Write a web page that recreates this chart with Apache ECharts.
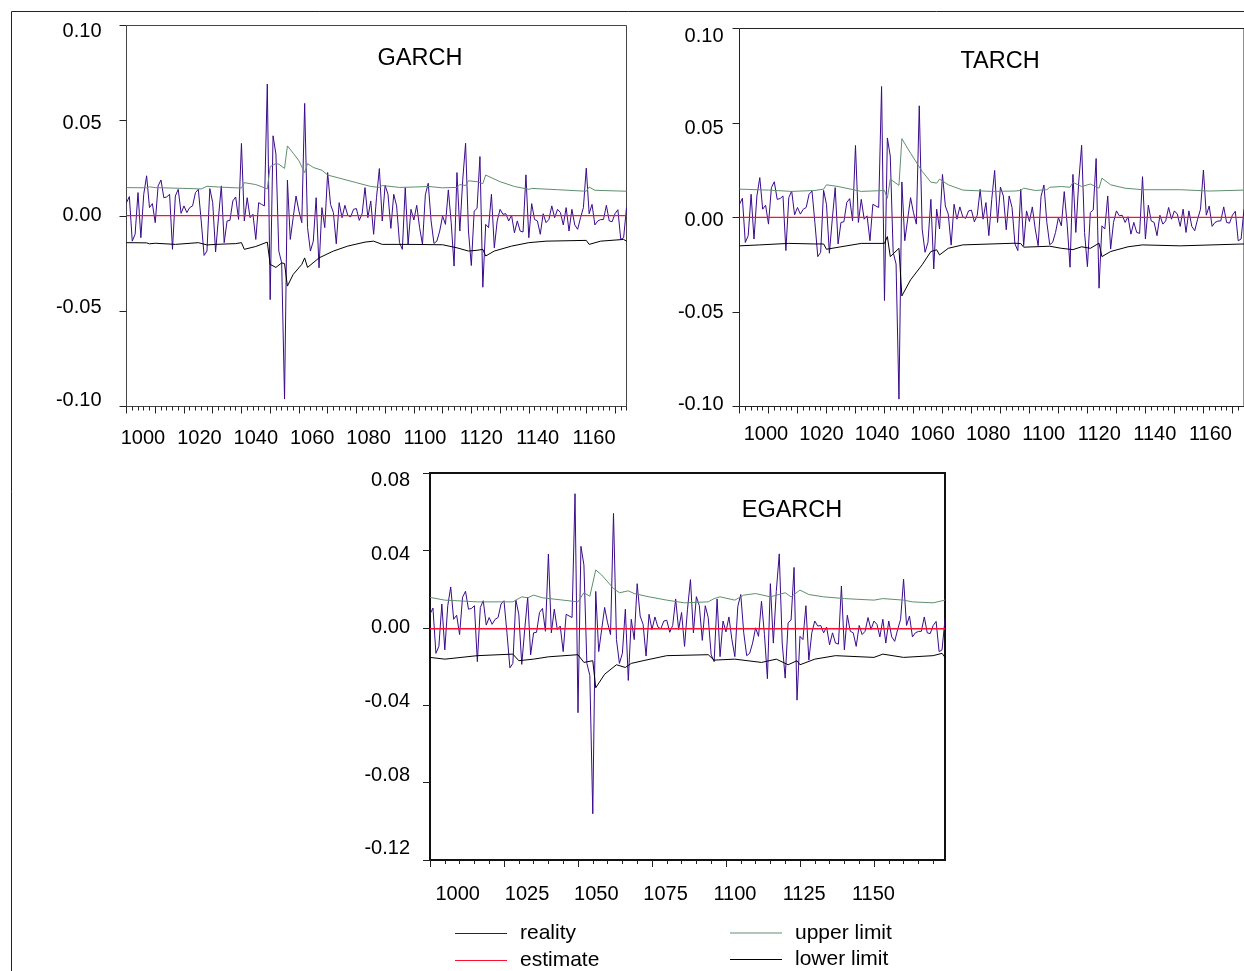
<!DOCTYPE html>
<html><head><meta charset="utf-8">
<script src="https://cdn.jsdelivr.net/npm/echarts@6/dist/echarts.min.js"></script>
<style>html,body{margin:0;padding:0;background:#fff}#c{width:1244px;height:971px}</style>
</head><body><div id="c"></div>
<script>
// ---- data (observation index 0..174) ----
const reality = [0.0070,0.0102,-0.0132,-0.0096,0.0123,-0.0114,0.0114,0.0211,0.0044,0.0065,
-0.0035,0.0158,0.0189,0.0096,0.0100,0.0114,-0.0175,0.0105,0.0140,0.0014,
0.0053,0.0018,0.0044,0.0053,0.0123,0.0140,-0.0026,-0.0207,-0.0184,0.0144,
0.0070,-0.0189,-0.0009,0.0158,-0.0140,-0.0026,-0.0023,0.0079,0.0100,-0.0018,
0.0381,-0.0026,0.0096,-0.0009,0.0009,-0.0123,0.0070,0.0061,0.0053,0.0693,
-0.0439,0.0421,0.0325,-0.0184,-0.0246,-0.0961,0.0188,-0.0123,-0.0009,0.0105,
0.0026,-0.0035,0.0591,-0.0061,-0.0184,-0.0132,0.0096,-0.0272,0.0044,-0.0061,
0.0228,0.0061,0.0018,-0.0146,0.0070,-0.0009,0.0056,0.0004,-0.0005,0.0035,
0.0039,-0.0023,0.0012,0.0149,-0.0009,0.0079,-0.0096,0.0096,0.0249,-0.0026,
0.0161,0.0114,-0.0065,0.0114,0.0053,-0.0140,-0.0175,0.0149,-0.0149,0.0035,
-0.0021,0.0056,-0.0061,-0.0149,0.0111,0.0172,-0.0026,-0.0144,-0.0132,-0.0079,
0.0000,-0.0044,0.0137,-0.0035,-0.0263,0.0228,-0.0079,0.0188,0.0382,-0.0079,
-0.0260,0.0026,0.0040,0.0312,-0.0374,-0.0044,-0.0061,0.0114,-0.0167,-0.0026,
0.0035,0.0009,0.0012,-0.0026,0.0004,-0.0088,-0.0026,-0.0079,-0.0084,0.0216,
-0.0114,0.0065,-0.0018,-0.0026,-0.0096,0.0012,-0.0035,-0.0018,0.0053,-0.0009,
0.0035,0.0018,-0.0047,0.0044,-0.0079,0.0035,-0.0047,-0.0070,-0.0009,0.0044,
0.0251,0.0012,0.0061,-0.0047,-0.0026,-0.0019,-0.0018,0.0056,-0.0026,-0.0030,
0.0012,0.0033,-0.0123,-0.0114,0.0044];

const garchEstimate = [[0,0.0002],[174,0.0002]];
const garchUpper = [[0,0.0149],[7,0.0148],[8,0.0153],[10,0.0149],[20,0.0145],[26,0.0142],[28,0.0156],[32,0.0152],[38,0.0148],[40,0.0147],[41,0.0175],[45,0.0165],[49,0.0142],[50,0.0260],[52,0.0275],[53,0.0272],[55,0.0250],[56,0.0368],[58,0.0330],[60,0.0290],[62,0.0228],[63,0.0275],[65,0.0255],[68,0.0240],[70,0.0215],[75,0.0195],[80,0.0175],[85,0.0155],[88,0.0150],[89,0.0160],[95,0.0150],[100,0.0152],[105,0.0155],[110,0.0148],[115,0.0150],[116,0.0165],[118,0.0160],[119,0.0185],[122,0.0180],[124,0.0170],[125,0.0215],[130,0.0180],[135,0.0155],[140,0.0140],[141,0.0145],[150,0.0138],[160,0.0130],[161,0.0152],[163,0.0135],[174,0.0130]];
const garchLower = [[0,-0.0140],[7,-0.0141],[8,-0.0146],[10,-0.0143],[17,-0.0149],[25,-0.0140],[28,-0.0152],[31,-0.0149],[38,-0.0145],[40,-0.0140],[41,-0.0175],[45,-0.0160],[49,-0.0137],[50,-0.0254],[52,-0.0270],[54,-0.0246],[55,-0.0250],[56,-0.0368],[58,-0.0307],[61,-0.0254],[62,-0.0220],[63,-0.0270],[67,-0.0220],[72,-0.0184],[77,-0.0158],[83,-0.0137],[86,-0.0132],[89,-0.0149],[98,-0.0149],[110,-0.0151],[115,-0.0167],[119,-0.0184],[122,-0.0180],[124,-0.0175],[125,-0.0210],[128,-0.0184],[134,-0.0158],[140,-0.0140],[146,-0.0132],[160,-0.0128],[161,-0.0149],[165,-0.0132],[173,-0.0123],[174,-0.0132]];

const tarchEstimate = [[0,0.0001],[174,0.0001]];
const tarchUpper = [[0,0.0150],[10,0.0145],[18,0.0138],[26,0.0143],[29,0.0150],[30,0.0173],[34,0.0164],[42,0.0138],[50,0.0143],[51,0.0102],[52,0.0203],[55,0.0170],[56,0.0417],[59,0.0340],[63,0.0244],[66,0.0187],[68,0.0182],[69,0.0203],[72,0.0173],[77,0.0145],[87,0.0138],[95,0.0140],[97,0.0143],[98,0.0155],[102,0.0143],[106,0.0147],[107,0.0160],[111,0.0164],[114,0.0160],[115,0.0186],[118,0.0164],[121,0.0177],[124,0.0155],[125,0.0208],[128,0.0173],[133,0.0155],[139,0.0147],[152,0.0147],[162,0.0140],[174,0.0145]];
const tarchLower = [[0,-0.0150],[7,-0.0145],[17,-0.0137],[26,-0.0140],[29,-0.0140],[30,-0.0168],[35,-0.0155],[42,-0.0137],[50,-0.0137],[51,-0.0101],[52,-0.0207],[55,-0.0163],[56,-0.0415],[59,-0.0330],[63,-0.0250],[66,-0.0180],[68,-0.0171],[69,-0.0198],[72,-0.0163],[77,-0.0145],[95,-0.0136],[97,-0.0138],[98,-0.0157],[107,-0.0152],[111,-0.0163],[115,-0.0170],[118,-0.0155],[121,-0.0163],[124,-0.0136],[125,-0.0207],[128,-0.0180],[134,-0.0155],[139,-0.0145],[152,-0.0150],[174,-0.0140]];

const egarchEstimate = [[0,-0.0005],[174,-0.0005]];
const egarchUpper = [[0,0.0157],[5,0.0143],[16,0.0134],[20,0.0134],[28,0.0134],[31,0.0160],[33,0.0155],[35,0.0169],[38,0.0155],[45,0.0143],[50,0.0134],[52,0.0181],[54,0.0163],[56,0.0299],[58,0.0273],[62,0.0203],[64,0.0181],[67,0.0191],[69,0.0177],[74,0.0160],[80,0.0143],[86,0.0129],[94,0.0134],[96,0.0151],[98,0.0160],[103,0.0143],[106,0.0169],[110,0.0177],[115,0.0160],[120,0.0181],[122,0.0160],[125,0.0195],[128,0.0172],[133,0.0160],[140,0.0151],[150,0.0143],[153,0.0151],[160,0.0143],[163,0.0134],[170,0.0129],[174,0.0143]];
const egarchLower = [[0,-0.0153],[5,-0.0162],[16,-0.0144],[28,-0.0136],[30,-0.0170],[35,-0.0162],[40,-0.0150],[50,-0.0139],[52,-0.0179],[55,-0.0170],[56,-0.0310],[59,-0.0240],[63,-0.0191],[66,-0.0205],[68,-0.0184],[72,-0.0170],[80,-0.0144],[94,-0.0139],[96,-0.0167],[103,-0.0162],[112,-0.0179],[117,-0.0162],[121,-0.0191],[124,-0.0170],[125,-0.0191],[130,-0.0162],[137,-0.0144],[150,-0.0153],[153,-0.0136],[160,-0.0153],[170,-0.0144],[173,-0.0132],[174,-0.0153]];

const xTickLabelsTop = [1000,1020,1040,1060,1080,1100,1120,1140,1160];
const xTickLabelsBottom = [1000,1025,1050,1075,1100,1125,1150];
const yTickLabelsTop = [-0.10,-0.05,0.00,0.05,0.10];
const yTickLabelsBottom = [-0.12,-0.08,-0.04,0.00,0.04,0.08];

// ---- styling / layout ----
const FONT = "'Liberation Sans', Arial, Helvetica, sans-serif";
const COL = {reality:'#3a0a8c', estimate:'#ff1030', upper:'#5f8f6e', lower:'#000000'};
const N = reality.length;

const panels = [
  {title:'GARCH', tx:420, ty:47, grid:{left:126.5,top:25.5,width:500,height:381}, border:{color:'#444',width:1},
   yMin:-0.1, yMax:0.1, yTicks:yTickLabelsTop, yLab:{min:-0.1035,max:0.1031,margin:25},
   xLab:{min:994.15,max:1171.5,margin:22,values:xTickLabelsTop}, major:10, minor:2,
   est:garchEstimate, up:garchUpper, lo:garchLower},
  {title:'TARCH', tx:1000, ty:50, grid:{left:739.5,top:28.5,width:507,height:378}, border:{color:'#222',width:1},
   yMin:-0.1, yMax:0.1, yTicks:yTickLabelsTop, yLab:{min:-0.1009,max:0.1046,margin:16},
   xLab:{min:990.5,max:1172.1,margin:17.5,values:xTickLabelsTop}, major:10, minor:2,
   est:tarchEstimate, up:tarchUpper, lo:tarchLower},
  {title:'EGARCH', tx:792, ty:499, grid:{left:430,top:473,width:515,height:387}, border:{color:'#111',width:2},
   yMin:-0.12, yMax:0.08, yTicks:yTickLabelsBottom, yLab:{min:-0.1261,max:0.0842,margin:20},
   xLab:{min:990.0,max:1175.8,margin:24,values:xTickLabelsBottom}, major:25, minor:5,
   est:egarchEstimate, up:egarchUpper, lo:egarchLower}
];

const option = {animation:false, backgroundColor:'#fff', title:[], grid:[], xAxis:[], yAxis:[], series:[], legend:[],
  graphic:[{type:'rect', shape:{x:11.5,y:11.5,width:1400,height:1100}, style:{fill:'none',stroke:'#222',lineWidth:1}, silent:true}]};

panels.forEach((p, g) => {
  option.title.push({text:p.title, left:p.tx, top:p.ty, textAlign:'center', padding:0,
    textStyle:{fontSize:23.5, fontWeight:'normal', fontFamily:FONT, color:'#000'}});
  option.grid.push(Object.assign({show:true, borderColor:p.border.color, borderWidth:p.border.width, backgroundColor:'transparent'}, p.grid));
  const majors = [], minors = [];
  for (let i = 0; i < N; i += p.minor) { if (i % p.major === 0) majors.push(i); else minors.push(i); }
  const xb = option.xAxis.length;
  option.xAxis.push({type:'value', gridIndex:g, min:0, max:N-1, position:'bottom',
    axisLine:{show:false, onZero:false}, splitLine:{show:false}, axisLabel:{show:false},
    axisTick:{show:true, length:7, customValues:majors, lineStyle:{color:'#222',width:1}}});
  option.xAxis.push({type:'value', gridIndex:g, min:0, max:N-1, position:'bottom',
    axisLine:{show:false, onZero:false}, splitLine:{show:false}, axisLabel:{show:false},
    axisTick:{show:true, length:4, customValues:minors, lineStyle:{color:'#222',width:1}}});
  option.xAxis.push({type:'value', gridIndex:g, min:p.xLab.min, max:p.xLab.max, position:'bottom',
    axisLine:{show:false, onZero:false}, splitLine:{show:false}, axisTick:{show:false},
    axisLabel:{show:true, customValues:p.xLab.values, margin:p.xLab.margin, fontSize:20, fontFamily:FONT, color:'#000', formatter:v=>String(Math.round(v))}});
  const yb = option.yAxis.length;
  option.yAxis.push({type:'value', gridIndex:g, min:p.yMin, max:p.yMax, position:'left',
    axisLine:{show:false, onZero:false}, splitLine:{show:false}, axisLabel:{show:false},
    axisTick:{show:true, length:7, customValues:p.yTicks, lineStyle:{color:'#222',width:1}}});
  option.yAxis.push({type:'value', gridIndex:g, min:p.yLab.min, max:p.yLab.max, position:'left',
    axisLine:{show:false, onZero:false}, splitLine:{show:false}, axisTick:{show:false},
    axisLabel:{show:true, customValues:p.yTicks, margin:p.yLab.margin, fontSize:20, fontFamily:FONT, color:'#000', formatter:v=>v.toFixed(2)}});
  const mk = (name, data, color, z, w) => ({name, type:'line', xAxisIndex:xb, yAxisIndex:yb, data, symbol:'none', showSymbol:false,
    silent:true, clip:true, z, lineStyle:{width:w, color}, itemStyle:{color}, emphasis:{disabled:true}});
  option.series.push(mk('reality', reality.map((v,i)=>[i,v]), COL.reality, 2, 1));
  option.series.push(mk('upper limit', p.up, COL.upper, 3, 1));
  option.series.push(mk('lower limit', p.lo, COL.lower, 3, 1));
  option.series.push(mk('estimate', p.est, COL.estimate, 4, 1.3));
});

const legendItems = [
  ['reality',455,923],
  ['estimate',455,950],
  ['upper limit',730,922.5],
  ['lower limit',730,949]];
legendItems.forEach(([name,x,y]) => option.legend.push({data:[name], left:x, top:y, padding:0, icon:'rect', itemWidth:52, itemHeight:1,
  selectedMode:false, textStyle:{fontSize:21, fontFamily:FONT, color:'#000', padding:[0,0,0,8]}}));

const chart = echarts.init(document.getElementById('c'), null, {renderer:'canvas'});
chart.setOption(option);
</script></body></html>
